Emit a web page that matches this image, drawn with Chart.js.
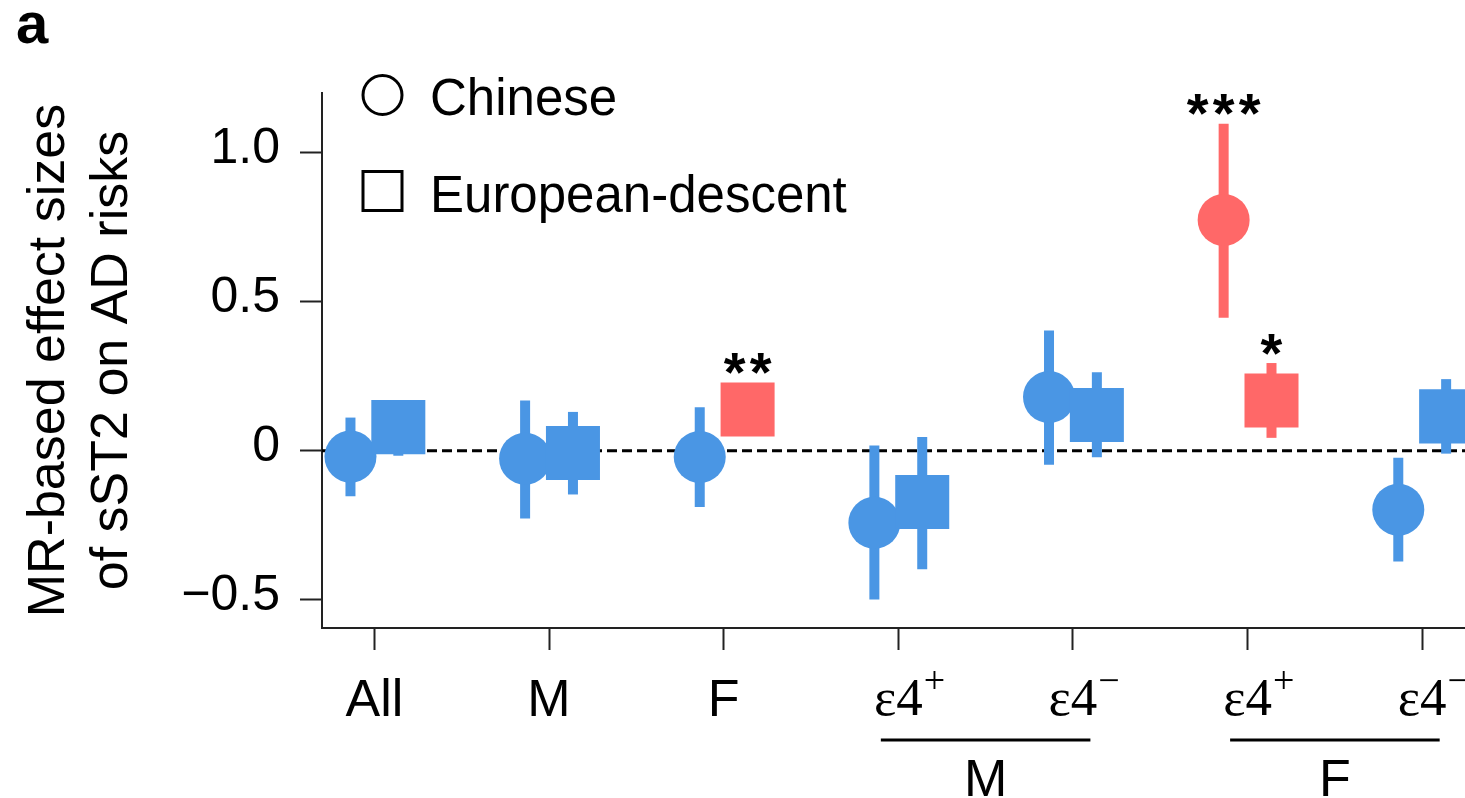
<!DOCTYPE html>
<html>
<head>
<meta charset="utf-8">
<title>MR-based effect sizes of sST2 on AD risks</title>
<script src="https://cdn.jsdelivr.net/npm/chart.js@4"></script>
<style>
  html, body { margin: 0; padding: 0; background: #fff; }
  canvas { display: block; }
</style>
</head>
<body>
<canvas id="chart" width="1465" height="798"></canvas>
<script>
// ---- data -------------------------------------------------------------
const categories   = ['All', 'M', 'F', 'ε4', 'ε4', 'ε4', 'ε4'];
const categorySup  = ['', '', '', '+', '−', '+', '−'];
const groupLabels  = ['M', 'F'];
const groupSpans   = [[3, 4], [5, 6]];

const seriesNames  = ['Chinese', 'European-descent'];

const chineseEst   = [-0.020, -0.027, -0.021, -0.242, 0.180, 0.774, -0.198];
const chineseLo    = [-0.153, -0.228, -0.189, -0.499, -0.047, 0.446, -0.372];
const chineseHi    = [ 0.111,  0.168,  0.146,  0.017,  0.403, 1.097, -0.024];
const chineseSig   = ['', '', '', '', '', '***', ''];

const europeanEst  = [ 0.079, -0.008, 0.138, -0.172, 0.120, 0.168, 0.115];
const europeanLo   = [-0.017, -0.147, 0.070, -0.398, -0.022, 0.043, -0.010];
const europeanHi   = [ 0.160,  0.130, 0.200,  0.046,  0.263, 0.294,  0.240];
const europeanSig  = ['', '', '**', '', '', '*', ''];

const yTicks       = [-0.5, 0, 0.5, 1.0];
const yTickLabels  = ['−0.5', '0', '0.5', '1.0'];
const yTitle       = ['MR-based effect sizes', 'of sST2 on AD risks'];
const panelLetter  = 'a';

// ---- styling ----------------------------------------------------------
const BLUE  = '#4a96e4';
const RED   = '#ff6868';
const INK   = '#000';
const AXIS  = '#222';
const SANS  = '"Liberation Sans", Arial, Helvetica, sans-serif';
const SERIF = '"Liberation Serif", "Times New Roman", serif';
const DX    = 0.137;          // horizontal dodge between the two cohorts
const X_MIN = -0.3, X_MAX = 6.245;
const Y_MIN = -0.595, Y_MAX = 1.2;
const CIRCLE_R = 26;
const SQUARE_R = 38.2;        // 'rect' point style: side = r * sqrt(2)

const colorFor = s => (s ? RED : BLUE);

function errorBars(lo, hi, sig, dx) {
  return lo.map((_, i) => ({
    type: 'line',
    data: [{ x: i + dx, y: lo[i] }, { x: i + dx, y: hi[i] }],
    borderColor: colorFor(sig[i]),
    borderWidth: 10,
    borderCapStyle: 'butt',
    pointRadius: 0,
    pointHoverRadius: 0,
    order: 50,
    clip: false
  }));
}

function markers(est, sig, dx, style, r, order) {
  return {
    type: 'scatter',
    data: est.map((y, i) => ({ x: i + dx, y })),
    pointStyle: style,
    pointRadius: r,
    pointHoverRadius: r,
    pointBackgroundColor: sig.map(colorFor),
    pointBorderWidth: 0,
    pointHoverBorderWidth: 0,
    showLine: false,
    order,
    clip: false
  };
}

const zeroLine = {
  type: 'line',
  data: [{ x: X_MIN, y: 0 }, { x: X_MAX, y: 0 }],
  borderColor: INK,
  borderWidth: 3,
  borderDash: [10, 5],
  pointRadius: 0,
  order: 100
};

// ---- annotation layer: labels, brackets, legend, stars ---------------
const annotations = {
  id: 'annotations',
  afterDraw(chart) {
    const { ctx, scales: { x, y } } = chart;
    ctx.save();
    ctx.fillStyle = INK;

    // panel letter
    ctx.font = `bold 58px ${SANS}`;
    ctx.textAlign = 'left';
    ctx.textBaseline = 'alphabetic';
    ctx.fillText(panelLetter, 16, 43);

    // y-axis title (two lines, rotated)
    ctx.font = `52px ${SANS}`;
    ctx.textAlign = 'center';
    const yMid = (chart.chartArea.top + chart.chartArea.bottom) / 2;
    [64, 127].forEach((bx, k) => {
      ctx.save();
      ctx.translate(bx, yMid);
      ctx.rotate(-Math.PI / 2);
      ctx.fillText(yTitle[k], 0, 0);
      ctx.restore();
    });

    // category labels
    categories.forEach((c, i) => {
      const px = x.getPixelForValue(i);
      if (categorySup[i]) {
        ctx.font = `53px ${SERIF}`;
        ctx.textAlign = 'center';
        ctx.fillText(c, px, 715);
        const w = ctx.measureText(c).width;
        ctx.font = `38px ${SERIF}`;
        ctx.textAlign = 'left';
        ctx.fillText(categorySup[i], px + w / 2 + 1, 693);
      } else {
        ctx.font = `52px ${SANS}`;
        ctx.textAlign = 'center';
        ctx.fillText(c, px, 716);
      }
    });

    // group brackets under the ε4 pairs
    ctx.strokeStyle = INK;
    ctx.lineWidth = 3;
    ctx.font = `52px ${SANS}`;
    ctx.textAlign = 'center';
    groupSpans.forEach(([a, b], k) => {
      const x0 = x.getPixelForValue(a - 0.1);
      const x1 = x.getPixelForValue(b + 0.1);
      ctx.beginPath();
      ctx.moveTo(x0, 740);
      ctx.lineTo(x1, 740);
      ctx.stroke();
      ctx.fillText(groupLabels[k], (x.getPixelForValue(a) + x.getPixelForValue(b)) / 2, 796);
    });

    // legend
    ctx.lineWidth = 3;
    ctx.beginPath();
    ctx.arc(382.5, 95, 19.5, 0, Math.PI * 2);
    ctx.stroke();
    ctx.strokeRect(363, 171.5, 39, 39);
    ctx.font = `51px ${SANS}`;
    ctx.textAlign = 'left';
    ctx.fillText(seriesNames[0], 430, 115);
    ctx.fillText(seriesNames[1], 430, 211.5);

    // significance stars above each flagged estimate
    ctx.font = `bold 56px ${SANS}`;
    ctx.textAlign = 'center';
    const m = ctx.measureText('*');
    const centerToBase = (m.actualBoundingBoxAscent - m.actualBoundingBoxDescent) / 2;
    const stars = (est, hi, sig, dx, r) => {
      sig.forEach((s, i) => {
        if (!s) return;
        const cx = x.getPixelForValue(i + dx);
        const top = Math.min(y.getPixelForValue(hi[i]), y.getPixelForValue(est[i]) - r);
        const cy = top - 19;
        const step = 26;
        for (let k = 0; k < s.length; k++) {
          ctx.fillText('*', cx + (k - (s.length - 1) / 2) * step, cy + centerToBase);
        }
      });
    };
    stars(chineseEst, chineseHi, chineseSig, -DX, CIRCLE_R);
    stars(europeanEst, europeanHi, europeanSig, DX, SQUARE_R * Math.SQRT1_2);

    ctx.restore();
  }
};

// ---- chart ------------------------------------------------------------
new Chart(document.getElementById('chart'), {
  type: 'scatter',
  data: {
    datasets: [
      zeroLine,
      ...errorBars(chineseLo, chineseHi, chineseSig, -DX),
      ...errorBars(europeanLo, europeanHi, europeanSig, DX),
      markers(chineseEst, chineseSig, -DX, 'circle', CIRCLE_R, 20),
      markers(europeanEst, europeanSig, DX, 'rect', SQUARE_R, 10)
    ]
  },
  options: {
    responsive: false,
    animation: false,
    devicePixelRatio: 1,
    events: [],
    layout: { autoPadding: false, padding: { left: 0, right: 0, top: 93, bottom: 0 } },
    plugins: { legend: { display: false }, tooltip: { enabled: false } },
    scales: {
      x: {
        type: 'linear',
        min: X_MIN,
        max: X_MAX,
        afterBuildTicks: s => { s.ticks = categories.map((_, i) => ({ value: i })); },
        afterFit: s => { s.height = 170; },
        ticks: { display: false },
        grid: { drawOnChartArea: false, drawTicks: true, tickLength: 22, tickColor: AXIS, tickWidth: 2 },
        border: { display: true, color: AXIS, width: 2 }
      },
      y: {
        type: 'linear',
        min: Y_MIN,
        max: Y_MAX,
        afterBuildTicks: s => { s.ticks = yTicks.map(v => ({ value: v })); },
        afterFit: s => { s.width = 322; },
        ticks: {
          callback: v => yTickLabels[yTicks.indexOf(v)],
          color: INK,
          font: { family: SANS, size: 50 },
          padding: 20,
          labelOffset: -3
        },
        grid: { drawOnChartArea: false, drawTicks: true, tickLength: 22, tickColor: AXIS, tickWidth: 2 },
        border: { display: true, color: AXIS, width: 2 }
      }
    }
  },
  plugins: [annotations]
});
</script>
</body>
</html>
